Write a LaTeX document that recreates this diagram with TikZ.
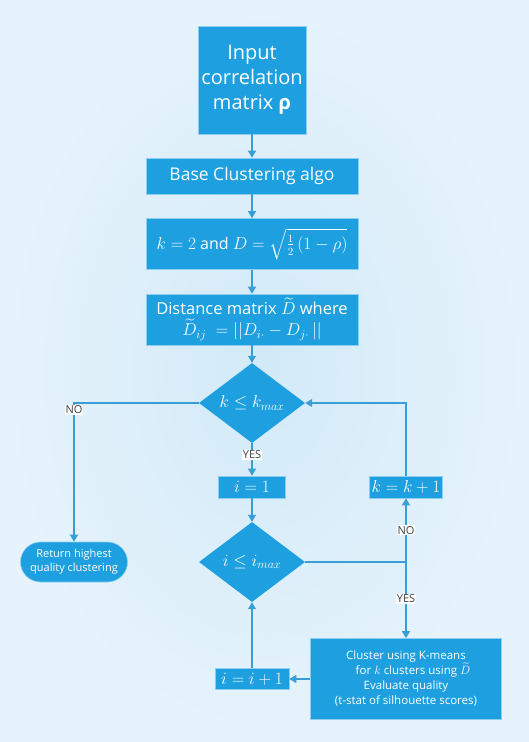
\documentclass[tikz,border=0pt]{standalone}
\usepackage{amsmath}
\usepackage{fontspec}
\setmainfont{Open Sans}
\usetikzlibrary{shapes.geometric,arrows.meta}
\definecolor{boxblue}{RGB}{30,160,224}
\definecolor{edgeblue}{RGB}{140,205,240}
\definecolor{lineblue}{RGB}{58,158,214}
\definecolor{bgin}{RGB}{210,234,248}
\definecolor{bgout}{RGB}{230,243,252}
\begin{document}
\begin{tikzpicture}[x=1pt,y=-1pt,
      box/.style={draw=edgeblue,fill=boxblue,text=white,line width=0.6pt,inner sep=0pt,align=center},
      dec/.style={diamond,fill=boxblue,text=white,inner sep=0pt,minimum width=106pt,minimum height=80pt},
      lbl/.style={fill=white,text=black!75,inner sep=1pt,font=\fontsize{11}{12}\selectfont},
      link/.style={draw=lineblue,line width=1.1pt,-{Triangle[width=8pt,length=7pt]}}]
      \fill[inner color=bgin,outer color=bgout] (0,0) rectangle (529,742);
      \useasboundingbox (0,0) rectangle (529,742);
      \node[box,minimum width=108pt,minimum height=108pt,font=\fontsize{20}{25}\selectfont] (in) at (252,80) {Input\\correlation\\matrix \textbf{ρ}};
      \node[box,minimum width=212pt,minimum height=36pt,font=\fontsize{17.5}{20}\selectfont] (base) at (252,176) {Base Clustering algo};
      \node[box,minimum width=212pt,minimum height=51pt,font=\fontsize{16}{19}\selectfont] (kd) at (252,244) {$k=2$ and $D=\sqrt{\tfrac{1}{2}\,(1-\rho)}$};
      \node[box,minimum width=212pt,minimum height=51pt,font=\fontsize{16.5}{21}\selectfont] (dist) at (252,319.5) {Distance matrix $\widetilde{D}$ where\\$\widetilde{D}_{ij}\;=||D_{i\cdot}-D_{j\cdot}\,||$};
      \node[dec,font=\fontsize{17}{19}\selectfont] (d1) at (252,403) {$k\le k_{max}$};
      \node[box,minimum width=67pt,minimum height=22pt,font=\fontsize{17}{19}\selectfont] (i1) at (252,487) {$i=1$};
      \node[box,minimum width=73pt,minimum height=22pt,font=\fontsize{16.5}{19}\selectfont] (kk) at (406,487) {$k=k+1$};
      \node[dec,font=\fontsize{17}{19}\selectfont] (d2) at (252,562) {$i\le i_{max}$};
      \node[box,rounded corners=20pt,minimum width=107pt,minimum height=40pt,font=\fontsize{11}{14}\selectfont] (ret) at (74,562) {Return highest\\quality clustering};
      \node[box,minimum width=191pt,minimum height=81pt,font=\fontsize{11.5}{15}\selectfont] (cl) at (406,679) {Cluster using K-means\\\hspace*{14pt}for $k$ clusters using $\widetilde{D}$\\Evaluate quality\\(t-stat of silhouette scores)};
      \node[box,minimum width=74pt,minimum height=21pt,font=\fontsize{17}{19}\selectfont] (ii) at (252,679) {$i=i+1$};
      \draw[link] (in) -- (base);
      \draw[link] (base) -- (kd);
      \draw[link] (kd) -- (dist);
      \draw[link] (dist.south) -- (d1.north);
      \draw[link] (d1.west) -| (ret.north) node[lbl,pos=0.525] {NO};
      \draw[link] (d1.south) -- (i1.north) node[lbl,pos=0.35] {YES};
      \draw[link] (i1) -- (d2.north);
      \draw[link] (d2.east) -| (kk.south) node[lbl,pos=0.75] {NO};
      \draw[link] (kk.north) |- (d1.east);
      \draw[link] (d2.east) -| (cl.north) node[lbl,pos=0.74] {YES};
      \draw[link] (cl.west) -- (ii.east);
      \draw[link] (ii.north) -- (d2.south);
\end{tikzpicture}
\end{document}
